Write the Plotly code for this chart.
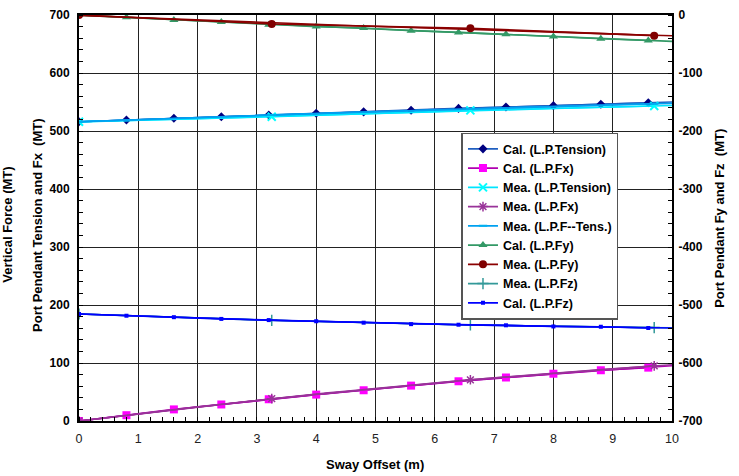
import numpy as np
import plotly.graph_objects as go

# ---- data ----
x_cal = [0, 0.8, 1.6, 2.4, 3.2, 4.0, 4.8, 5.6, 6.4, 7.2, 8.0, 8.8, 9.6]
x_mea = [0, 3.25, 6.6, 9.7]

cal_tension = [516, 519, 522, 524.5, 527.5, 530.5, 533, 535.7, 539, 541.4, 543.7, 546, 548.8]
cal_fx = [0, 10, 20, 28.5, 37.5, 45.5, 53, 61, 68.5, 75, 81.5, 87.5, 92]
mea_tension = [516, 524.7, 535.5, 543]
mea_fx = [0, 38.5, 71, 95]
mea_ftens = [516, 527.8, 538, 547]
cal_fy = [0, -4, -8.6, -12, -16.7, -20, -22.5, -27, -30, -33, -37, -41, -44]
mea_fy = [0, -15.5, -23, -35.6]
mea_fz = [-515.5, -526.4, -534.5, -539]
cal_fz = [-515.5, -518.5, -521, -524, -526, -528, -530.5, -533, -534, -535, -537, -537.5, -539.7]

x_ticks = list(range(0, 11))
left_ticks = list(range(0, 701, 100))
right_ticks = list(range(-700, 1, 100))
right_labels = [str(v).replace("\u2212", "-") for v in right_ticks]

FONT = "Liberation Sans, Arial, sans-serif"

fig = go.Figure()


def add_series(name, xs, ys, color, line_color, symbol, size, axis="y", mline=None, mcolor=None):
    xs = np.array(xs, dtype=float)
    ys = np.array(ys, dtype=float)
    # trend line across the full axis (fitted to the series' own points)
    deg = 2 if len(xs) > 3 else 1
    coef = np.polyfit(xs, ys, deg)
    xt = np.linspace(0, 10, 51)
    fig.add_trace(go.Scatter(x=xt, y=np.polyval(coef, xt), mode="lines",
                             line=dict(color=line_color, width=1.6),
                             showlegend=False, hoverinfo="skip", yaxis=axis))
    marker = dict(symbol=symbol, size=size, color=mcolor or color)
    if mline is not None:
        marker["line"] = dict(color=color, width=mline)
    fig.add_trace(go.Scatter(x=xs, y=ys, mode="lines+markers", name=name,
                             line=dict(color=line_color, width=1.6),
                             marker=marker, yaxis=axis))


add_series("Cal. (L.P.Tension)", x_cal, cal_tension, "#000080", "#1F5FC0", "diamond", 7)
add_series("Cal. (L.P.Fx)", x_cal, cal_fx, "#FF00FF", "#B000B0", "square", 8)
add_series("Mea. (L.P.Tension)", x_mea, mea_tension, "#00FFFF", "#00E5FF", "x-thin", 8, mline=2)
add_series("Mea. (L.P.Fx)", x_mea, mea_fx, "#993399", "#993399", "asterisk", 8, mline=1.5)
add_series("Mea. (L.P.F--Tens.)", x_mea, mea_ftens, "#00B0F0", "#00A0F0", "line-ew", 6, mline=2)
add_series("Cal. (L.P.Fy)", x_cal, cal_fy, "#339966", "#339966", "triangle-up", 8, axis="y2")
add_series("Mea. (L.P.Fy)", x_mea, mea_fy, "#800000", "#8B0000", "circle", 8, axis="y2")
add_series("Mea. (L.P.Fz)", x_mea, mea_fz, "#339999", "#339999", "cross-thin", 8, axis="y2", mline=1.5)
add_series("Cal. (L.P.Fz)", x_cal, cal_fz, "#0000FF", "#0000FF", "square", 4, axis="y2")

axis_common = dict(showline=True, linecolor="black", linewidth=2,
                   gridcolor="#222222", gridwidth=1, zeroline=False)

fig.update_layout(
    width=739, height=476,
    margin=dict(l=79, r=67, t=15, b=55, autoexpand=False),
    paper_bgcolor="white", plot_bgcolor="white",
    font=dict(family=FONT, size=12, color="black"),
    xaxis=dict(range=[0, 10], tickvals=x_ticks, ticks="", mirror=True, ticklabelstandoff=5,
               minor=dict(ticks="inside", dtick=0.2, ticklen=4, tickcolor="black", showgrid=False),
               tickfont=dict(size=12.5, color="#222222"), **axis_common),
    yaxis=dict(range=[0, 700], tickvals=left_ticks, ticks="", ticklabelstandoff=5,
               minor=dict(ticks="inside", dtick=20, ticklen=4, tickcolor="black", showgrid=False),
               tickfont=dict(size=12, weight="bold"), **axis_common),
    yaxis2=dict(range=[-700, 0], tickvals=right_ticks, ticktext=right_labels, ticks="",
                overlaying="y", side="right", ticklabelstandoff=2,
                minor=dict(ticks="inside", dtick=20, ticklen=4, tickcolor="black", showgrid=False),
                tickfont=dict(size=12, weight="bold"), showgrid=False,
                showline=True, linecolor="black", linewidth=2, zeroline=False),
    legend=dict(x=0.645, y=0.71, xanchor="left", yanchor="top",
                bgcolor="white", bordercolor="#555555", borderwidth=1.5,
                font=dict(size=12.5, weight="bold"), tracegroupgap=0, itemwidth=30),
    showlegend=True,
)

annots = [
    dict(text="Vertical Force (MT)", x=-0.12, y=0.483, textangle=-90),
    dict(text="Port Pendant Tension and Fx  (MT)", x=-0.069, y=0.483, textangle=-90),
    dict(text="Port Pendant Fy and Fz  (MT)", x=1.079, y=0.5, textangle=-90),
    dict(text="Sway Offset (m)", x=0.499, y=-0.106, textangle=0),
]
for a in annots:
    fig.add_annotation(xref="paper", yref="paper", showarrow=False,
                       xanchor="center", yanchor="middle",
                       font=dict(size=13, weight="bold", family=FONT), **a)

fig.write_html("out.html", post_script="document.body.style.margin='0';",
               config={"displayModeBar": False})
